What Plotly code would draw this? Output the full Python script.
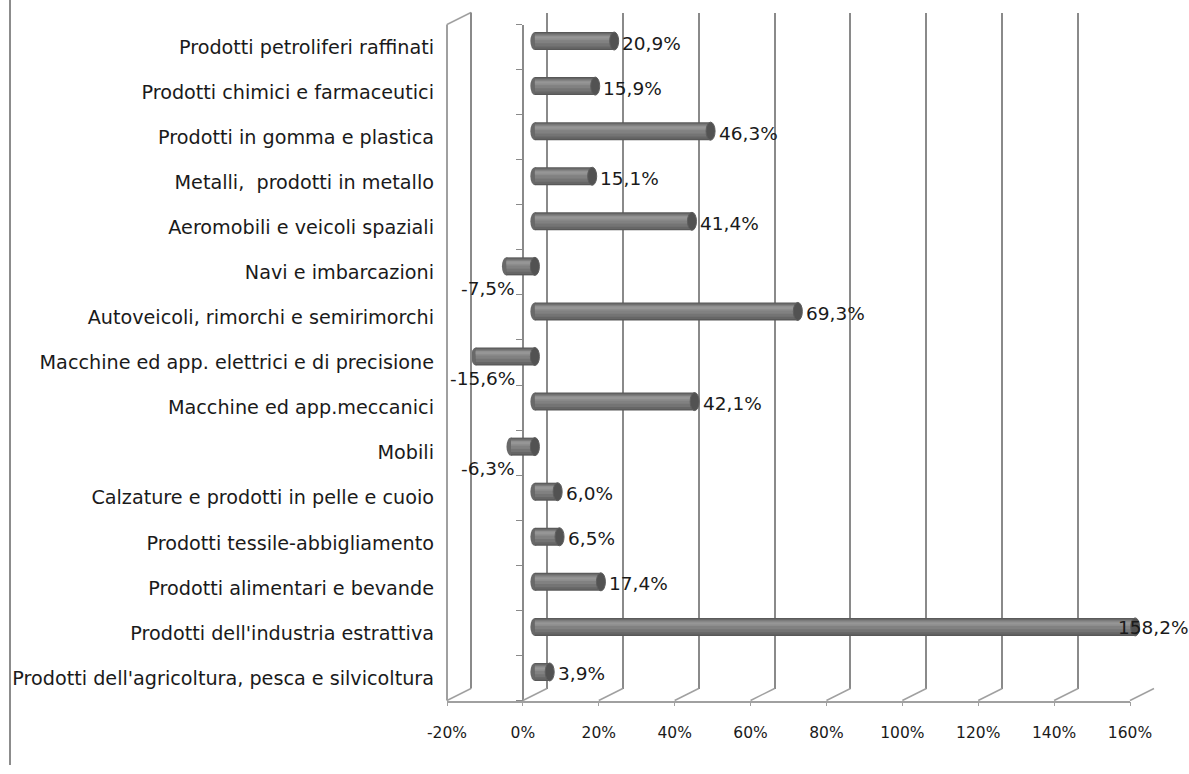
import plotly.graph_objects as go

# ---- data -------------------------------------------------------------
categories = [
    "Prodotti petroliferi raffinati",
    "Prodotti chimici e farmaceutici",
    "Prodotti in gomma e plastica",
    "Metalli,\u00a0 prodotti in metallo",
    "Aeromobili e veicoli spaziali",
    "Navi e imbarcazioni",
    "Autoveicoli, rimorchi e semirimorchi",
    "Macchine ed app. elettrici e di precisione",
    "Macchine ed app.meccanici",
    "Mobili",
    "Calzature e prodotti in pelle e cuoio",
    "Prodotti tessile-abbigliamento",
    "Prodotti alimentari e bevande",
    "Prodotti dell'industria estrattiva",
    "Prodotti dell'agricoltura, pesca e silvicoltura",
]
variazione = [20.9, 15.9, 46.3, 15.1, 41.4, -7.5, 69.3, -15.6, 42.1, -6.3,
              6.0, 6.5, 17.4, 158.2, 3.9]
tick_values = [-20, 0, 20, 40, 60, 80, 100, 120, 140, 160]
tick_labels = ["-20%", "0%", "20%", "40%", "60%", "80%", "100%", "120%", "140%", "160%"]

# ---- page geometry (pixels) ---------------------------------------------
W, H = 1189, 774
XMIN, XMAX = -20, 160
FRONT_L, FRONT_R = 447, 1130      # front edge of the floor
FRONT_T, FRONT_B = 24.5, 700.5    # front plane, top / bottom
DX, DY = 24, -12                  # depth offset of the back wall
FONT = "DejaVu Sans"
TEXT = "#1a1a1a"
GRID = "#8a8a8a"
EDGE = "#a0a0a0"
LABEL_ROOM = 72                   # space a value label needs past the bar end


def fx(px):
    return px / W


def fy(py):
    return 1 - py / H


def front_px(v):
    return FRONT_L + (v - XMIN) / (XMAX - XMIN) * (FRONT_R - FRONT_L)


n = len(categories)
idx = list(range(n))
yrange = [n - 0.5, -0.5]

fig = go.Figure()

# invisible anchors so every subplot is laid out
for xa, ya in (("x", "y"), ("x2", "y2"), ("x2", "y4")):
    fig.add_trace(go.Scatter(x=[None], y=[None], xaxis=xa, yaxis=ya,
                             showlegend=False, hoverinfo="skip"))

# cylinder bodies: stacked layers of lighter grey give the rounded shading
layers = [
    (0.40, -0.200, "#585858"),
    (0.35, -0.180, "#666666"),
    (0.28, -0.160, "#747474"),
    (0.19, -0.140, "#818181"),
    (0.10, -0.120, "#8d8d8d"),
    (0.04, -0.095, "#969696"),
]
for w, off, col in layers:
    fig.add_trace(go.Bar(
        x=variazione, y=idx, orientation="h", width=w, offset=off,
        marker=dict(color=col, line=dict(width=0)),
        xaxis="x3", yaxis="y3", showlegend=False, hoverinfo="skip",
    ))

# cylinder ends: rounded start (behind) and dark cap at the far end
cap_half = 4.5 / ((FRONT_R - FRONT_L) / (XMAX - XMIN))
shapes = []
for i, v in enumerate(variazione):
    start, end = min(v, 0), max(v, 0)
    shapes.append(dict(type="circle", xref="x3", yref="y3", layer="between",
                       x0=start - cap_half, x1=start + cap_half,
                       y0=i - 0.2, y1=i + 0.2,
                       fillcolor="#696969", line=dict(width=0)))
    shapes.append(dict(type="circle", xref="x3", yref="y3", layer="above",
                       x0=end - cap_half, x1=end + cap_half,
                       y0=i - 0.2, y1=i + 0.2,
                       fillcolor="#525252", line=dict(color="#5e5e5e", width=1)))

# floor: diagonals from the front ticks back to the wall gridlines
for t in tick_values:
    px = front_px(t)
    shapes.append(dict(type="line", xref="paper", yref="paper",
                       x0=fx(px), y0=fy(FRONT_B), x1=fx(px + DX), y1=fy(FRONT_B + DY),
                       line=dict(color=EDGE, width=1.5)))
# left side wall: front edge, top edge, back edge
shapes.append(dict(type="line", xref="paper", yref="paper",
                   x0=fx(FRONT_L), y0=fy(FRONT_T), x1=fx(FRONT_L), y1=fy(FRONT_B),
                   line=dict(color=EDGE, width=2)))
shapes.append(dict(type="line", xref="paper", yref="paper",
                   x0=fx(FRONT_L), y0=fy(FRONT_T), x1=fx(FRONT_L + DX), y1=fy(FRONT_T + DY),
                   line=dict(color=EDGE, width=1.5)))
shapes.append(dict(type="line", xref="paper", yref="paper",
                   x0=fx(FRONT_L + DX), y0=fy(FRONT_T + DY),
                   x1=fx(FRONT_L + DX), y1=fy(FRONT_B + DY),
                   line=dict(color=GRID, width=2)))
# chart border, left edge
shapes.append(dict(type="line", xref="paper", yref="paper",
                   x0=fx(10), y0=fy(0), x1=fx(10), y1=fy(765),
                   line=dict(color="#8c8c8c", width=2)))

# data labels
label_font = dict(family=FONT, size=18.5, color=TEXT)
annotations = []
for i, v in enumerate(variazione):
    txt = f"{v:.1f}".replace(".", ",") + "%"
    if v < 0:
        annotations.append(dict(x=0, y=i, xref="x3", yref="y3", text=txt,
                                showarrow=False, xanchor="right", yanchor="middle",
                                xshift=-18, yshift=-22, font=label_font))
    elif front_px(v) + DX / 2 + LABEL_ROOM > W:
        # no room past the bar end: pull the label back over the cap
        annotations.append(dict(x=v, y=i, xref="x3", yref="y3", text=txt,
                                showarrow=False, xanchor="left", yanchor="middle",
                                xshift=-19, yshift=-1, font=label_font))
    else:
        annotations.append(dict(x=v, y=i, xref="x3", yref="y3", text=txt,
                                showarrow=False, xanchor="left", yanchor="middle",
                                xshift=6, yshift=-2, font=label_font))

fig.update_layout(
    width=W, height=H, autosize=False,
    margin=dict(l=0, r=0, t=0, b=0, autoexpand=False),
    paper_bgcolor="white", plot_bgcolor="rgba(0,0,0,0)",
    barmode="overlay",
    font=dict(family=FONT, size=16, color=TEXT),
    shapes=shapes, annotations=annotations,
    # back wall: gridlines
    xaxis=dict(domain=[fx(FRONT_L + DX), fx(FRONT_R + DX)], range=[XMIN, XMAX],
               tickvals=tick_values, showticklabels=False, ticks="",
               showgrid=True, gridcolor=GRID, gridwidth=2, automargin=False,
               zeroline=True, zerolinecolor=GRID, zerolinewidth=2,
               showline=False, anchor="y"),
    yaxis=dict(domain=[fy(FRONT_B + DY), fy(FRONT_T + DY)], range=[0, 1],
               visible=False, anchor="x", automargin=False),
    # front plane: value axis and category labels
    xaxis2=dict(domain=[fx(FRONT_L), fx(FRONT_R)], range=[XMIN, XMAX],
                tickvals=tick_values, ticktext=tick_labels,
                ticks="outside", ticklen=4, tickcolor=EDGE,
                showline=True, linecolor=EDGE, linewidth=1.5,
                showgrid=False, zeroline=False, anchor="y2", automargin=False,
                ticklabelstandoff=13,
                tickfont=dict(family=FONT, size=15.5, color=TEXT)),
    yaxis2=dict(domain=[fy(FRONT_B), fy(FRONT_T)], range=yrange,
                tickvals=idx, ticktext=categories, ticks="",
                showline=False, showgrid=False, zeroline=False,
                anchor="x2", automargin=False, ticklabelstandoff=12,
                tickfont=dict(family=FONT, size=19.2, color=TEXT)),
    # category axis at 0%
    yaxis4=dict(overlaying="y2", anchor="free", position=fx(front_px(0)),
                range=yrange, tickvals=[k - 0.5 for k in range(n + 1)],
                showticklabels=False, ticks="outside", ticklen=6,
                tickcolor=GRID, showline=True, linecolor=GRID, linewidth=1.5,
                showgrid=False, zeroline=False, automargin=False),
    # mid plane: the cylinders
    xaxis3=dict(domain=[fx(FRONT_L + DX / 2), fx(FRONT_R + DX / 2)], range=[XMIN, XMAX],
                visible=False, anchor="y3", automargin=False),
    yaxis3=dict(domain=[fy(FRONT_B + DY / 2), fy(FRONT_T + DY / 2)], range=yrange,
                visible=False, anchor="x3", automargin=False),
)

fig.write_html("out.html")
